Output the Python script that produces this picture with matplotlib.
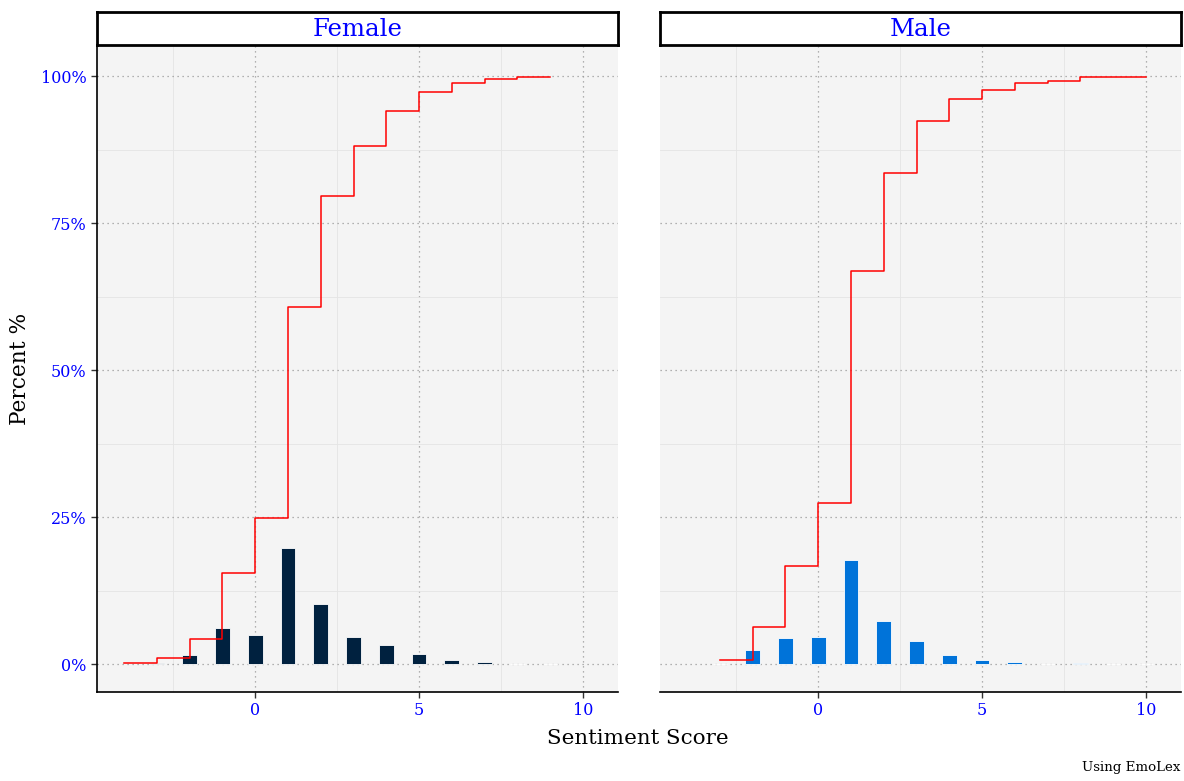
import matplotlib
matplotlib.use("Agg")
import matplotlib.pyplot as plt
from matplotlib.ticker import FixedLocator, FuncFormatter

# ---- data ----
panels = ["Female", "Male"]
bar_colors = {"Female": "#00213F", "Male": "#0073D9"}

female_bar_x = [-3, -2, -1, 0, 1, 2, 3, 4, 5, 6, 7, 8, 9]
female_bar_pct = [0.2, 1.5, 6.2, 4.9, 19.8, 10.2, 4.6, 3.2, 1.7, 0.6, 0.3, 0.05, 0.05]
female_cum_x = [-4, -3, -2, -1, 0, 1, 2, 3, 4, 5, 6, 7, 8, 9]
female_cum_pct = [0.2, 1.1, 4.2, 15.5, 24.8, 60.7, 79.6, 88.1, 94.1, 97.3, 98.8, 99.55, 99.8, 99.8]

male_bar_x = [-3, -2, -1, 0, 1, 2, 3, 4, 5, 6, 7, 8, 9, 10]
male_bar_pct = [0.05, 2.4, 4.5, 4.6, 17.7, 7.4, 3.9, 1.5, 0.6, 0.3, 0.05, 0.1, 0.02, 0.05]
male_cum_x = [-3, -2, -1, 0, 1, 2, 3, 4, 5, 6, 7, 8, 9, 10]
male_cum_pct = [0.7, 6.3, 16.7, 27.4, 66.8, 83.5, 92.4, 96.1, 97.7, 98.8, 99.1, 99.8, 99.8, 99.8]

x_ticks = [0, 5, 10]
y_ticks = [0, 25, 50, 75, 100]

data = {
    "Female": (female_bar_x, female_bar_pct, female_cum_x, female_cum_pct),
    "Male": (male_bar_x, male_bar_pct, male_cum_x, male_cum_pct),
}

# ---- figure ----
W, H = 1184, 781
fig = plt.figure(figsize=(W / 100, H / 100), dpi=100)
plt.rcParams["font.family"] = ["DejaVu Serif"]

def px_rect(x0, y0, x1, y1):
    return [x0 / W, (H - y1) / H, (x1 - x0) / W, (y1 - y0) / H]

panel_px = {"Female": (97, 618), "Male": (660, 1181)}
for i, name in enumerate(panels):
    x0, x1 = panel_px[name]
    ax = fig.add_axes(px_rect(x0, 45, x1, 692))
    ax.set_facecolor("#F4F4F4")
    bx, by, cx, cy = data[name]
    ax.bar(bx, by, width=0.45, color=bar_colors[name], edgecolor="white",
           linewidth=0.6, zorder=3)
    ax.step(cx, cy, where="post", color="red", linewidth=1.1, zorder=4)
    ax.set_xlim(-4.83, 11.07)
    ax.set_ylim(-4.76, 105.3)

    ax.xaxis.set_major_locator(FixedLocator(x_ticks))
    ax.yaxis.set_major_locator(FixedLocator(y_ticks))
    ax.xaxis.set_minor_locator(FixedLocator([-2.5, 2.5, 7.5]))
    ax.yaxis.set_minor_locator(FixedLocator([12.5, 37.5, 62.5, 87.5]))
    ax.grid(which="major", color="#9A9A9A", linestyle=(0, (1, 3)), linewidth=0.9, zorder=1)
    ax.grid(which="minor", color="#E4E4E4", linestyle="-", linewidth=0.6, zorder=0)
    ax.set_axisbelow(True)
    ax.tick_params(which="minor", length=0)
    ax.tick_params(which="major", length=4, width=1, color="#333333",
                   labelcolor="blue", labelsize=11.5)
    for s in ["top", "right"]:
        ax.spines[s].set_visible(False)
    ax.spines["bottom"].set_linewidth(1.2)
    ax.spines["left"].set_linewidth(1.2)
    ax.yaxis.set_major_formatter(FuncFormatter(lambda v, p: f"{int(v)}%"))
    if i == 1:
        ax.spines["left"].set_visible(False)
        ax.tick_params(axis="y", left=False, labelleft=False)

    # strip
    sax = fig.add_axes(px_rect(x0, 12, x1, 45))
    sax.set_xticks([]); sax.set_yticks([])
    sax.set_facecolor("white")
    for s in sax.spines.values():
        s.set_linewidth(2)
        s.set_color("black")
    sax.text(0.5, 0.47, name, ha="center", va="center", color="blue",
             fontsize=17.6, transform=sax.transAxes)

fig.text(638 / W, 1 - 738 / H, "Sentiment Score", ha="center", va="center", fontsize=15.4)
fig.text(20 / W, 1 - 369 / H, "Percent %", ha="center", va="center", rotation=90, fontsize=15.6)
fig.text(1180 / W, 1 - 767 / H, "Using EmoLex", ha="right", va="center", fontsize=9.6)

fig.savefig("out.png", dpi=100)
